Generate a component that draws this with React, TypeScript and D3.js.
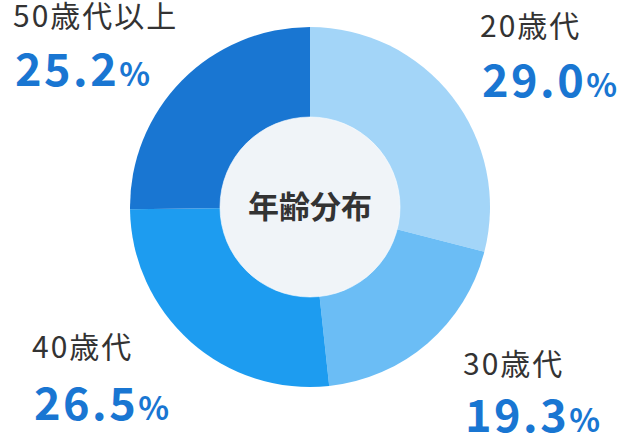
import React, { useEffect, useRef } from 'react';
import * as d3 from 'd3';

// Age groups, clockwise from 12 o'clock
const categories = ['20歳代', '30歳代', '40歳代', '50歳代以上'];
const shares = [29.0, 19.3, 26.5, 25.2];
const sliceColors = ['#a3d5f8', '#6bbdf5', '#1d9cf0', '#1976d2'];
const centerTitle = '年齢分布';

// label anchor per slice: [x, name baseline, percent baseline]
const labelPos: [number, number, number][] = [
  [480, 37, 97],
  [463, 375, 432],
  [32, 358, 420],
  [13, 27, 86],
];

const W = 620;
const H = 435;
const FONT = '"Noto Sans CJK JP", "Noto Sans", sans-serif';

export default function App() {
  const ref = useRef<SVGSVGElement | null>(null);

  useEffect(() => {
    if (!ref.current) return;
    const svg = d3.select(ref.current);
    svg.selectAll('*').remove();

    const cx = 310;
    const cy = 207;
    const outerR = 180;
    const innerR = 90;

    const pie = d3.pie<number>().sort(null).value(d => d);
    const arcs = pie(shares);
    const arc = d3.arc<d3.PieArcDatum<number>>().innerRadius(0).outerRadius(outerR);

    const g = svg.append('g').attr('transform', `translate(${cx},${cy})`);

    g.selectAll('path.slice')
      .data(arcs)
      .join('path')
      .attr('class', 'slice')
      .attr('d', arc)
      .attr('fill', (_, i) => sliceColors[i]);

    // hole
    g.append('circle')
      .attr('r', innerR)
      .attr('fill', '#f0f4f8')
      .attr('stroke', '#ffffff')
      .attr('stroke-opacity', 0.6)
      .attr('stroke-width', 1);

    g.append('text')
      .attr('text-anchor', 'middle')
      .attr('y', 11)
      .attr('font-family', FONT)
      .attr('font-size', 31)
      .attr('font-weight', 700)
      .attr('fill', '#333333')
      .text(centerTitle);

    // outside labels
    const labels = svg.selectAll('g.label')
      .data(categories)
      .join('g')
      .attr('class', 'label')
      .attr('transform', (_, i) => `translate(${labelPos[i][0]},0)`);

    labels.append('text')
      .attr('y', (_, i) => labelPos[i][1])
      .attr('font-family', FONT)
      .attr('font-size', 30)
      .attr('fill', '#333333')
      .attr('letter-spacing', 2)
      .text(d => d);

    const pct = labels.append('text')
      .attr('x', 2)
      .attr('y', (_, i) => labelPos[i][2])
      .attr('font-family', FONT)
      .attr('font-weight', 700)
      .attr('fill', '#1976d2');

    pct.append('tspan')
      .attr('font-size', 45)
      .attr('letter-spacing', 2.5)
      .text((_, i) => shares[i].toFixed(1));
    pct.append('tspan')
      .attr('font-size', 32)
      .text('%');
  }, []);

  return (
    <div style={{ position: 'absolute', left: 0, top: 0 }}>
      <svg ref={ref} width={W} height={H} style={{ display: 'block', background: '#ffffff' }} />
    </div>
  );
}
